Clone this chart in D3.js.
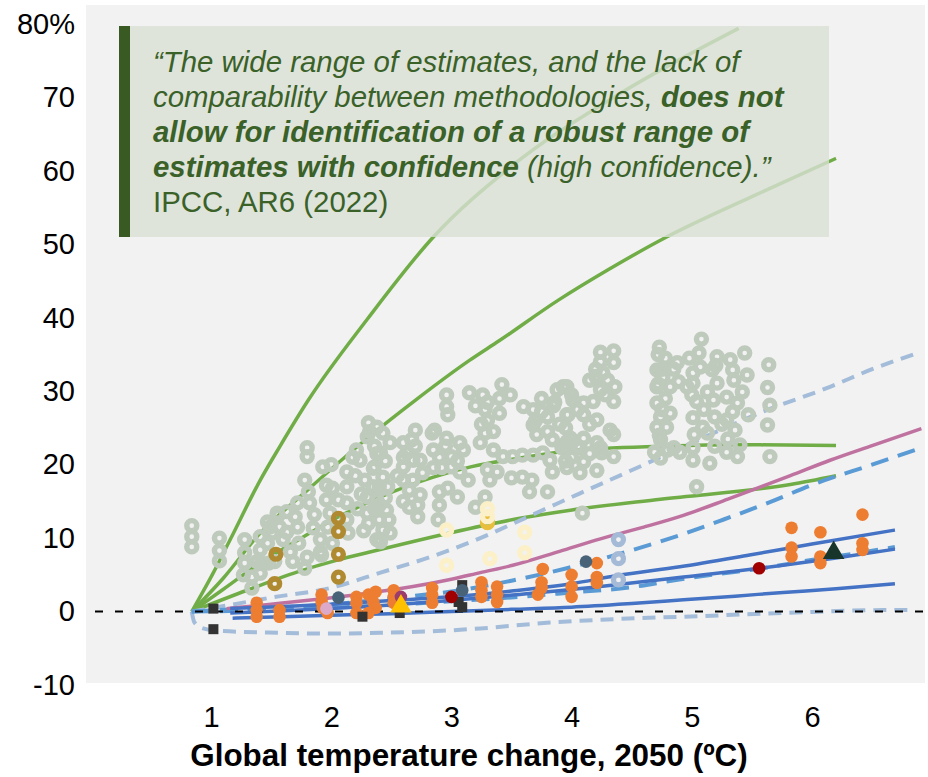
<!DOCTYPE html>
<html><head><meta charset="utf-8">
<script src="https://cdn.jsdelivr.net/npm/d3@7"></script>
<style>body{margin:0;background:#fff;} svg{display:block;font-family:"Liberation Sans",Arial,sans-serif;}</style>
</head><body><svg id="c" width="928" height="777"></svg>
<script>
// ---------- DATA ----------
const yTicks = [-10, 0, 10, 20, 30, 40, 50, 60, 70, 80];
const xTicks = [1, 2, 3, 4, 5, 6];
const xTitle = "Global temperature change, 2050 (ºC)";

// damage-function curves: [temperature, % GDP loss]
const green1 = [[0.84,0],[1.02,5.3],[1.16,9.8],[1.41,17.9],[1.57,22.4],[1.81,28.8],[2.3,39.8],[2.85,51],[3.49,60.5],[4.4,70.5],[5.39,79.4]];
const green2 = [[0.84,0],[1.1,4.5],[1.4,10.5],[1.8,16.5],[2.3,23.6],[2.71,28.9],[3.15,34.2],[3.4,36.9],[3.89,42.4],[4.3,46.5],[4.79,51.0],[5.5,56.5],[6.2,61.7]];
const green3 = [[0.84,0],[1.1,3.0],[1.4,6.5],[1.7,9.5],[2.05,12.8],[2.41,15.6],[2.85,18.3],[3.16,19.7],[3.57,20.9],[3.99,21.9],[4.74,22.5],[5.5,22.7],[6.2,22.6]];
const green4 = [[0.84,0],[1.30,2.9],[1.72,5.4],[2.05,7.0],[2.32,8.1],[2.96,10.6],[3.57,12.7],[3.99,13.8],[4.74,15.3],[5.82,17.3],[6.2,18.5]];
const pinkLine = [[1.13,0.4],[1.5,1.0],[1.85,1.6],[2.3,2.5],[2.68,3.4],[3.0,4.4],[3.24,5.3],[3.51,6.3],[3.9,8.2],[4.24,9.9],[4.6,11.5],[4.93,13.1],[5.3,15.3],[5.82,18.5],[6.15,20.6],[6.5,22.6],[6.91,24.9]];
const blueTop = [[1.16,0.4],[1.6,0.7],[2.0,1.0],[2.5,1.5],[2.99,2.0],[3.5,2.8],[4.0,3.8],[4.38,4.9],[4.9,6.1],[5.48,7.7],[6.0,9.2],[6.69,11.1]];
const blueMid = [[1.16,-0.2],[1.6,0.1],[2.0,0.4],[2.5,0.9],[2.99,1.5],[3.54,2.3],[4.24,3.4],[4.93,4.7],[5.76,6.3],[6.2,7.3],[6.69,8.5]];
const blueLow = [[1.18,-0.9],[1.6,-0.7],[2.0,-0.5],[2.5,-0.3],[3.0,0.0],[3.5,0.3],[4.0,0.6],[4.5,1.1],[4.93,1.6],[5.36,2.1],[5.76,2.6],[6.2,3.1],[6.69,3.8]];
const medDashUp = [[0.84,0],[1.2,0.3],[1.5,0.5],[2.0,1.0],[2.5,1.8],[3.07,2.9],[3.5,4.2],[3.96,5.9],[4.51,8.4],[4.9,10.4],[5.26,12.5],[5.65,14.9],[6.04,17.5],[6.5,20.0],[6.91,22.3]];
const medDashLow = [[0.84,0],[1.5,0.2],[2.0,0.5],[2.5,0.9],[3.0,1.4],[3.4,1.8],[4.0,2.6],[4.49,3.3],[4.87,4.3],[5.21,5.1],[5.59,5.9],[5.98,7.0],[6.4,8.0],[6.69,8.8]];
const lightDashUp = [[0.84,0],[1.16,0.9],[1.5,1.9],[1.99,3.2],[2.41,5.3],[2.82,7.4],[3.24,10.0],[3.65,13.0],[4.07,16.1],[4.63,20.2],[5.18,24.3],[5.59,27.2],[6.15,30.6],[6.5,33.0],[6.9,35.3]];
const lightDashLow = [[0.84,0],[0.86,-1.4],[0.92,-2.2],[1.05,-2.6],[1.57,-2.9],[1.99,-3.0],[2.41,-2.9],[2.82,-2.7],[3.24,-2.3],[3.82,-1.5],[4.4,-1.0],[4.93,-0.7],[5.76,-0.2],[6.59,0.2],[6.85,0.2]];

// study estimates: [temperature, % GDP loss]
const grayRings = [
[0.84,11.7],[0.84,10.2],[0.84,8.8],[1.07,10.0],[1.07,8.3],[1.07,6.9],
[1.28,9.8],[1.28,8.0],[1.28,6.6],[1.27,5.0],[1.34,3.2],[1.34,4.7],
[1.41,8.4],[1.42,6.6],[1.47,12.2],[1.41,5.2],[1.51,10.7],[1.56,13.1],[1.57,11.5],[1.60,9.8],[1.66,8.1],[1.63,10.8],[1.72,14.8],[1.70,12.9],[1.72,11.5],[1.73,9.3],[1.68,6.8],[1.78,5.9],[1.80,7.4],[1.78,17.9],[1.80,22.3],[1.80,21.1],[1.81,16.3],[1.82,14.8],[1.86,13.2],[1.85,11.4],[1.91,9.8],[1.91,8.1],[1.93,19.7],[2.00,20.0],[1.96,17.2],[2.01,16.8],[1.96,15.2],[2.06,15.2],[1.99,13.4],[1.97,11.5],[2.01,9.3],[1.92,7.7],[2.13,19.0],[2.13,17.0],[2.13,14.8],[2.13,12.5],[2.14,10.7],[2.21,22.0],[2.24,20.6],[2.30,23.8],[2.31,25.7],[2.32,24.5],[2.28,17.9],[2.30,15.6],[2.30,13.4],[2.38,9.8],[2.31,12.0],
[1.55,13.4],[1.63,13.6],[1.49,11.5],[1.41,10.2],[1.47,9.3],[1.53,6.8],[1.48,6.6],[1.38,6.8],
[2.20,18.5],[2.25,16.0],[2.35,19.5],[2.38,21.5],[2.22,14.0],[2.35,17.0],[2.27,11.0],[2.40,12.5],[2.40,14.5],[2.18,21.0],
[2.96,29.5],[2.96,27.9],[2.97,26.8],[2.86,24.7],[2.96,23.6],[3.07,23.0],[3.00,21.1],[2.85,19.6],[2.92,19.6],[3.00,19.7],[3.07,19.0],[3.14,17.9],[2.90,16.3],[2.97,16.8],[3.05,15.6],[2.90,14.5],[2.89,12.5],[3.20,14.2],[3.28,15.6],
[3.15,29.8],[3.26,29.5],[3.42,30.9],[3.49,29.5],[3.28,27.5],[3.28,24.3],[3.24,23.0],[3.35,22.0],[3.43,21.1],[3.30,19.3],[3.38,19.0],[3.32,17.9],[3.51,21.1],[3.59,21.3],[3.68,21.3],[3.76,21.6],[3.82,20.6],[3.84,19.0],[3.50,18.2],[3.59,18.3],[3.67,17.9],[3.65,16.3],[3.80,16.3],
[3.60,27.9],[3.68,27.5],[3.75,27.2],[3.68,25.4],[3.71,24.1],[3.80,24.5],[3.84,23.4],[3.92,22.3],[3.96,23.1],[3.88,30.2],[3.93,30.6],[3.86,28.5],[3.96,26.8],
[2.38,25.1],[2.43,24.3],[2.49,23.0],[2.41,21.6],[2.36,19.7],[2.43,18.3],[2.47,17.0],[2.38,15.2],[2.46,13.8],[2.43,11.1],[2.49,10.7],[2.41,9.5],
[2.60,23.0],[2.70,24.7],[2.67,23.4],[2.63,21.6],[2.68,20.6],[2.60,19.7],[2.74,20.6],[2.60,17.9],[2.68,17.9],[2.76,18.9],[2.74,15.9],[2.65,14.2],[2.72,12.9],[2.84,24.3],
[3.2,28.0],[3.3,26.0],[3.4,27.0],[3.25,25.5],[3.35,24.5],[3.4,29.0],[3.3,28.5],
[2.85,22.0],[2.95,22.5],[3.05,20.5],[2.9,21.0],[3.1,22.0],
[2.36,22.5],[2.45,20.5],[2.40,17.0],[2.45,15.5],[2.36,14.0],[2.48,12.5],
[2.6,21.0],[2.7,22.5],[2.65,16.5],[2.72,14.5],[2.6,15.0],[2.55,18.5],
[3.75,29.0],[3.8,26.5],[3.9,25.5],[3.85,28.0],[3.7,26.0],
[4.24,35.3],[4.35,35.5],[4.24,34.0],[4.35,33.9],[4.26,32.5],[4.36,30.6],[4.35,28.6],[4.18,28.6],[4.10,28.4],[4.15,31.5],[4.24,30.2],[3.96,30.6],[4.01,28.8],[3.97,26.8],[4.10,26.8],[4.21,26.1],[4.32,24.7],[4.35,24.1],[3.99,23.6],[4.10,23.6],[4.21,23.0],[3.96,22.4],[4.07,22.3],[4.24,22.3],[4.25,21.6],[4.35,21.1],[4.10,20.4],[3.96,19.6],[4.07,18.9],[4.21,19.2],[4.09,13.4],
[4.2,33.0],[4.3,31.5],[4.28,29.5],[4.2,32.0],[4.0,29.5],[4.05,27.5],[3.95,25.0],[4.15,25.5],[4.0,21.0],[4.15,21.5],[3.95,20.5],[4.05,22.5],
[4.73,36.0],[5.08,37.1],[4.78,34.5],[4.88,33.9],[4.71,32.9],[4.71,30.6],[4.76,31.9],[4.82,30.6],[4.89,31.3],[4.71,28.4],[4.98,34.5],[5.06,35.2],[5.07,33.3],[5.01,32.5],[5.01,31.1],[4.96,30.6],[5.17,32.9],[5.21,34.7],[5.32,34.3],[5.44,35.2],[5.46,32.2],[5.34,32.9],[5.21,31.1],[5.13,29.9],[5.29,29.2],[5.42,29.9],[5.18,28.8],[5.04,28.6],[5.38,28.4],[5.34,27.2],[5.47,26.8],[5.19,26.5],[5.29,26.1],[5.36,24.7],[5.01,26.4],[5.09,25.1],[4.74,26.5],[4.82,27.0],[4.71,25.1],[4.79,25.1],[4.74,23.4],[5.02,24.1],[5.13,24.3],[4.69,21.7],[4.74,20.9],[4.85,22.3],[4.90,21.7],[5.01,20.6],[5.01,22.3],[5.15,20.2],[5.19,22.5],[5.29,21.7],[5.38,21.1],[5.40,22.7],[5.04,17.0],
[4.75,33.0],[4.72,31.0],[4.78,29.0],[4.75,27.5],[4.73,24.0],[4.8,22.0],[4.85,33.0],[4.72,35.0],
[5.0,29.5],[5.1,27.5],[5.25,25.5],[5.3,23.5],[5.35,31.5],[5.2,33.5],
[5.64,33.6],[5.63,30.5],[5.65,28.1],[5.63,25.4],[5.65,21.1]
];
const brownRings = [[1.54,7.8],[1.53,3.8],[2.06,12.7],[2.06,10.9],[2.06,7.8],[2.06,4.7]];
const goldRings = [[3.30,12.1]];
const yellowRings = [[2.96,11.1],[2.96,6.3],[3.30,14.0],[3.30,12.9],[3.32,7.2],[3.61,10.8],[3.61,8.0]];
const steelRings = [[4.39,9.8],[4.39,7.2],[4.39,4.3]];
const orangeDots = [
[1.38,1.2],[1.38,0.2],[1.38,-0.7],[1.57,0.2],[1.57,-0.7],
[1.92,2.3],[1.92,1.3],[1.93,0.5],[1.97,-0.2],
[2.21,2.0],[2.21,1.2],[2.21,-0.2],
[2.31,2.3],[2.35,1.3],[2.37,2.7],[2.37,0.5],[2.31,-0.2],
[2.52,2.9],[2.52,2.0],[2.52,1.2],
[2.84,3.2],[2.84,2.3],[2.84,1.2],
[3.25,4.0],[3.25,2.9],[3.25,2.0],
[3.38,3.4],[3.38,2.3],[3.38,1.3],
[3.76,5.8],[3.75,4.0],[3.75,3.2],[3.72,2.3],
[4.00,5.0],[4.00,3.4],[4.00,2.0],
[4.21,6.6],[4.21,4.7],[4.21,3.9],
[5.83,11.4],[5.83,8.7],[5.83,7.5],
[6.07,10.8],[6.07,7.5],[6.07,6.6],
[6.42,13.2],[6.42,9.3],[6.42,8.4]
];
const darkSquares = [[1.02,0.4],[1.02,-2.4],[2.26,-0.7],[2.57,-0.2],[3.09,3.6],[3.06,1.3],[3.09,0.6]];
const slateDots = [[2.06,1.9],[3.09,2.9],[4.12,6.8]];
const redDots = [[3.00,2.0],[5.56,5.9]];
const purpleDots = [[2.58,2.0]];
const pinkDots = [[1.96,0.4]];
const yellowTriangles = [[2.58,0.7]];
const darkTriangles = [[6.18,8.0]];

// ---------- CHART ----------
const svg = d3.select("#c");
const x = d3.scaleLinear().domain([0, 7]).range([90.8, 932.2]);
const y = d3.scaleLinear().domain([-10, 80]).range([685, 24]);

svg.append("rect").attr("x", 86).attr("y", 5).attr("width", 839).attr("height", 678).attr("fill", "#f2f2f2");

const line = d3.line().x(d => x(d[0])).y(d => y(d[1])).curve(d3.curveMonotoneX);
const series = [
  {d: green1, c: "#70ad47", w: 3.5},
  {d: green2, c: "#70ad47", w: 3.5},
  {d: green3, c: "#70ad47", w: 3.5},
  {d: green4, c: "#70ad47", w: 3.5},
  {d: lightDashUp, c: "#a3bcd9", w: 4, dash: "13,8"},
  {d: lightDashLow, c: "#a3bcd9", w: 4, dash: "13,8"},
  {d: medDashUp, c: "#5b9bd5", w: 4, dash: "18,10"},
  {d: medDashLow, c: "#5b9bd5", w: 4, dash: "18,10"},
  {d: pinkLine, c: "#bf72a0", w: 3.5},
  {d: blueTop, c: "#4472c4", w: 3.5},
  {d: blueMid, c: "#4472c4", w: 3.5},
  {d: blueLow, c: "#4472c4", w: 3.5}
];
svg.append("g").selectAll("path").data(series).join("path")
  .attr("d", s => line(s.d)).attr("fill", "none")
  .attr("stroke", s => s.c).attr("stroke-width", s => s.w)
  .attr("stroke-dasharray", s => s.dash || null)
  .attr("stroke-linecap", "butt").attr("stroke-linejoin", "round");

// zero line
svg.append("line").attr("x1", 95).attr("x2", 925).attr("y1", y(0)).attr("y2", y(0))
  .attr("stroke", "#000").attr("stroke-width", 2).attr("stroke-dasharray", "8,12");

function rings(data, color, r, w) {
  svg.append("g").selectAll("circle").data(data).join("circle")
    .attr("cx", d => x(d[0])).attr("cy", d => y(d[1])).attr("r", r)
    .attr("fill", "none").attr("stroke", color).attr("stroke-width", w);
}
function dots(data, color, r) {
  svg.append("g").selectAll("circle").data(data).join("circle")
    .attr("cx", d => x(d[0])).attr("cy", d => y(d[1])).attr("r", r).attr("fill", color);
}
rings(grayRings, "#becabb", 5, 5.4);
rings(brownRings, "#b08a30", 4.9, 5.4);
rings(goldRings, "#e9be3c", 4.9, 5.4);
rings(yellowRings, "#fcf0c8", 5, 5.4);
rings(steelRings, "#a5bad6", 5, 5.2);
dots(orangeDots, "#ed7d31", 6.3);
svg.append("g").selectAll("rect").data(darkSquares).join("rect")
  .attr("x", d => x(d[0]) - 5).attr("y", d => y(d[1]) - 5).attr("width", 10).attr("height", 10).attr("fill", "#333333");
dots(slateDots, "#486278", 6.3);
dots(redDots, "#a00000", 6.3);
dots(purpleDots, "#9b3c6e", 6.3);
dots(pinkDots, "#dcaac8", 6.3);
const tri = d3.symbol().type(d3.symbolTriangle).size(200);
svg.append("g").selectAll("path").data(yellowTriangles).join("path")
  .attr("transform", d => `translate(${x(d[0])},${y(d[1])})`).attr("d", tri).attr("fill", "#ffc000");
svg.append("g").selectAll("path").data(darkTriangles).join("path")
  .attr("transform", d => `translate(${x(d[0])},${y(d[1])})`).attr("d", tri).attr("fill", "#17352b");

// axes
const yAxis = svg.append("g").attr("transform", "translate(75,0)")
  .call(d3.axisLeft(y).tickValues(yTicks).tickSize(0).tickPadding(0).tickFormat(d => d === 80 ? "80%" : String(d)));
const xAxis = svg.append("g").attr("transform", "translate(0,706)")
  .call(d3.axisBottom(x).tickValues(xTicks).tickSize(0).tickPadding(0).tickFormat(d => String(d)));
[yAxis, xAxis].forEach(a => {
  a.select(".domain").remove();
  a.selectAll("text").attr("font-size", 29).attr("fill", "#000").attr("font-family", '"Liberation Sans",Arial,sans-serif');
});
svg.append("text").attr("x", 469).attr("y", 766).attr("text-anchor", "middle")
  .attr("font-size", 31.4).attr("font-weight", "bold").attr("fill", "#000").text(xTitle);

// quote box
svg.append("rect").attr("x", 119).attr("y", 26).attr("width", 710).attr("height", 211)
  .attr("fill", "#dae0d4").attr("opacity", 0.8);
svg.append("rect").attr("x", 119).attr("y", 26).attr("width", 11).attr("height", 211).attr("fill", "#3a5a24");
const quote = [
  [["“The wide range of estimates, and the lack of", "normal", "italic"]],
  [["comparability between methodologies, ", "normal", "italic"], ["does not", "bold", "italic"]],
  [["allow for identification of a robust range of", "bold", "italic"]],
  [["estimates with confidence", "bold", "italic"], [" (high confidence).”", "normal", "italic"]],
  [["IPCC, AR6 (2022)", "normal", "normal"]]
];
quote.forEach((segs, i) => {
  const t = svg.append("text").attr("x", 153).attr("y", 72 + i * 35)
    .attr("font-size", 29.4).attr("fill", "#3a6128").attr("xml:space", "preserve");
  segs.forEach(s => t.append("tspan").attr("font-weight", s[1]).attr("font-style", s[2]).text(s[0]));
});
</script></body></html>
